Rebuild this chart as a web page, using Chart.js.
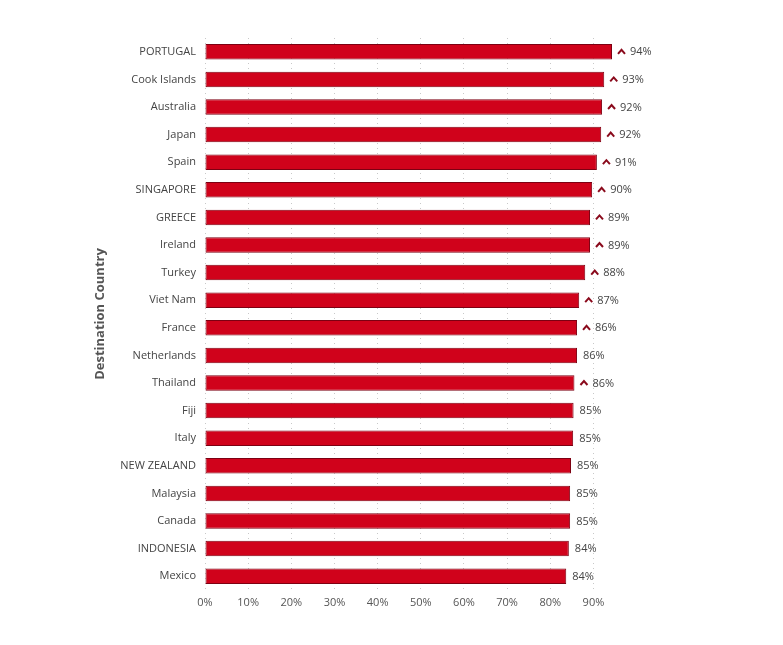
<!DOCTYPE html>
<html>
<head>
<meta charset="utf-8">
<script src="https://cdn.jsdelivr.net/npm/chart.js@4.4.1/dist/chart.umd.min.js"></script>
<style>
	html, body { margin: 0; padding: 0; background: #fff; }
	canvas { display: block; }
</style>
</head>
<body>
<canvas id="myChart" width="783" height="645"></canvas>
<script>
const countries = ['PORTUGAL', 'Cook Islands', 'Australia', 'Japan', 'Spain', 'SINGAPORE', 'GREECE', 'Ireland', 'Turkey', 'Viet Nam',
	'France', 'Netherlands', 'Thailand', 'Fiji', 'Italy', 'NEW ZEALAND', 'Malaysia', 'Canada', 'INDONESIA', 'Mexico'];
const scores = [94.3, 92.5, 92.0, 91.8, 90.8, 89.7, 89.2, 89.2, 88.1, 86.7,
	86.2, 86.2, 85.6, 85.4, 85.3, 84.8, 84.6, 84.6, 84.3, 83.7];
// 1 = rising marker shown next to the value
const rising = [1, 1, 1, 1, 1, 1, 1, 1, 1, 1, 1, 0, 1, 0, 0, 0, 0, 0, 0, 0];
const xTicks = [0, 10, 20, 30, 40, 50, 60, 70, 80, 90];

const fontFamily = '"Open Sans", "DejaVu Sans", sans-serif';

// value text + little caret after each bar
const barLabels = {
	id: 'barLabels',
	afterDatasetsDraw(chart) {
		const ctx = chart.ctx;
		const meta = chart.getDatasetMeta(0);
		ctx.save();
		ctx.font = '11px ' + fontFamily;
		ctx.textBaseline = 'middle';
		ctx.textAlign = 'left';
		meta.data.forEach((bar, i) => {
			let x = bar.x + 6;
			const y = bar.y;
			if (rising[i]) {
				ctx.beginPath();
				ctx.moveTo(x, y + 2);
				ctx.lineTo(x + 3.5, y - 2);
				ctx.lineTo(x + 7, y + 2);
				ctx.strokeStyle = '#8a0a1c';
				ctx.lineWidth = 2;
				ctx.stroke();
				x += 12;
			}
			ctx.fillStyle = '#444';
			ctx.fillText(Math.round(scores[i]) + '%', x, y + 0.5);
		});
		ctx.restore();
	}
};

const canvas = document.getElementById('myChart').getContext('2d');
const countryChart = {
	type: 'bar',
	data: {
		labels: countries,
		datasets: [
			{
				data: scores,
				backgroundColor: '#d0021b',
				borderColor: '#7d0012',
				borderWidth: 1,
				borderSkipped: false,
				categoryPercentage: 1,
				barPercentage: 0.56,
			},
		],
	},
	options: {
		indexAxis: 'y',
		responsive: false,
		animation: false,
		layout: {
			padding: { left: 88, top: 38, right: 171, bottom: 35 },
		},
		plugins: {
			legend: { display: false },
			tooltip: { enabled: false },
		},
		scales: {
			x: {
				min: 0,
				max: Math.max(...scores),
				afterBuildTicks: (scale) => {
					scale.ticks = xTicks.map((v) => ({ value: v }));
				},
				afterFit: (scale) => {
					scale.height = 20;
				},
				grid: {
					color: '#c8c8c8',
					lineWidth: 1,
					drawTicks: false,
				},
				border: { display: false, dash: [1, 4] },
				ticks: {
					color: '#555',
					padding: 6,
					font: { size: 11, family: fontFamily },
					callback: (value) => value + '%',
				},
			},
			y: {
				afterFit: (scale) => {
					scale.width = 117;
				},
				grid: { display: false, drawTicks: false },
				border: { display: false },
				title: {
					display: true,
					text: 'Destination Country',
					color: '#555',
					font: { size: 13, weight: 'bold', family: fontFamily },
					padding: 4,
				},
				ticks: {
					color: '#444',
					padding: 9,
					font: { size: 11, family: fontFamily },
				},
			},
		},
	},
	plugins: [barLabels],
};
let myChart = new Chart(canvas, countryChart);
</script>
</body>
</html>
